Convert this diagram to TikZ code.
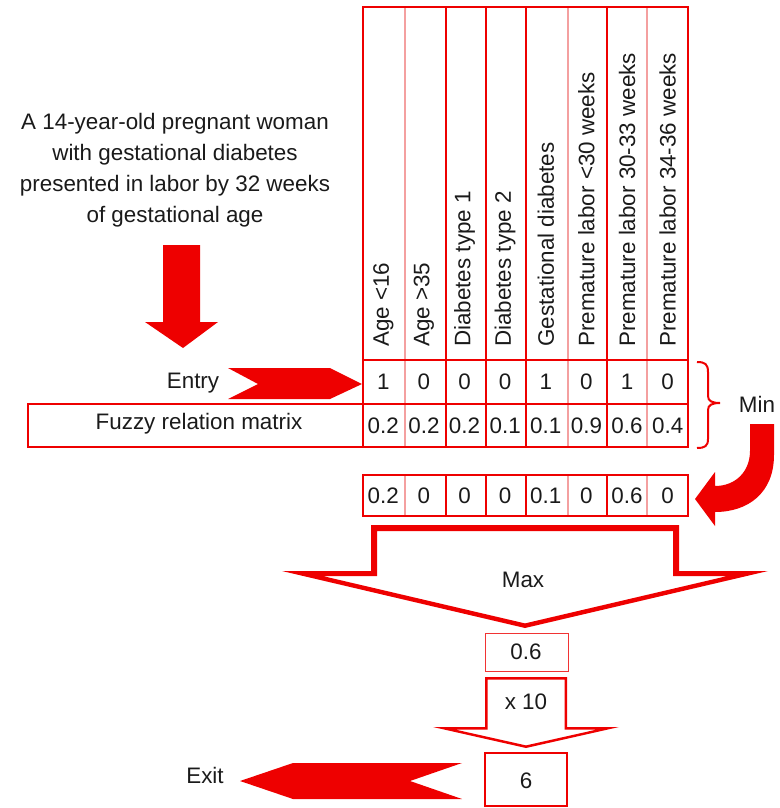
\documentclass[tikz,border=0pt]{standalone}
\usepackage{fontspec}
\setmainfont{Liberation Sans}
\definecolor{fred}{HTML}{EE0000}
\definecolor{fpink}{HTML}{F4A0A0}
\definecolor{ink}{HTML}{1A1A1A}
\newcommand\diagfont{\fontsize{16.8}{23.25}\selectfont}
\begin{document}
\begin{tikzpicture}[x=0.75pt,y=-0.75pt,
  every node/.style={inner sep=0pt, text=ink, font=\diagfont},
  frame/.style={draw=fred, line width=1.5pt},
  rule/.style={draw=fred, line width=0.8pt},
  boldrule/.style={draw=fred, line width=1.2pt},
  softrule/.style={draw=fpink, line width=0.8pt},
  solidarrow/.style={fill=fred, draw=none},
  hollowarrow/.style={fill=fred, draw=none, even odd rule},
]
\useasboundingbox (0,0) rectangle (780,808);

% ---- case description and downward arrow
\node[align=center] (case) at (175,170)
  {A 14-year-old pregnant woman\\with gestational diabetes\\presented in labor by 32 weeks\\of gestational age};
\fill[solidarrow] (163,245) -- (200,245) -- (200,322) -- (218,322) -- (183,348)
  -- (145,322) -- (163,322) -- cycle;

% ---- table grid (header, entry row, matrix row)
\foreach \x in {405,568,647} \draw[softrule] (\x,7) -- (\x,447);
\foreach \x in {446,486,607} \draw[rule] (\x,7) -- (\x,447);
\draw[boldrule] (526,7) -- (526,447);
\draw[frame] (363,360) -- (688,360);
\draw[frame] (363,404) -- (688,404);
\draw[frame] (363,7) rectangle (688,447);
\draw[frame] (28,404) rectangle (363,447);

% ---- column headings
\foreach \t [count=\i] in {Age <16, Age >35, Diabetes type 1, Diabetes type 2,
    Gestational diabetes, Premature labor <30 weeks, Premature labor 30-33 weeks,
    Premature labor 34-36 weeks}
  \node[rotate=90, anchor=west] (head\i) at ({363+(\i-0.5)*40.625},347) {\t};

% ---- entry and matrix values
\foreach \v [count=\i] in {1,0,0,0,1,0,1,0}
  \node (entry\i) at ({363+(\i-0.5)*40.625},382) {\v};
\foreach \v [count=\i] in {0.2,0.2,0.2,0.1,0.1,0.9,0.6,0.4}
  \node (rel\i) at ({363+(\i-0.5)*40.625},425.5) {\v};

\node (entrylabel) at (193,383) {Entry};
\node (rellabel) at (199,424) {Fuzzy relation matrix};
\fill[solidarrow] (228,368) -- (330,368) -- (362,384) -- (330,399) -- (228,399)
  -- (258,384) -- cycle;

% ---- brace and Min
\draw[fred, line width=1.5pt]
  (697,362) .. controls (705,362) and (708,364) .. (708,372) -- (708,396)
  .. controls (708,401) and (712,403) .. (720,403)
  .. controls (712,403) and (708,405) .. (708,410) -- (708,439)
  .. controls (708,446) and (705,448) .. (697,448);
\node (minlabel) at (757,404) {Min};
\fill[solidarrow] (750,424) -- (774,424) -- (774,455)
  .. controls (774,493) and (748,512) .. (715,512) -- (715,526) -- (695,499)
  -- (715,472) -- (715,486) .. controls (736,486) and (750,471) .. (750,451) -- cycle;

% ---- result row
\foreach \x in {405,568,647} \draw[softrule] (\x,475) -- (\x,516);
\foreach \x in {446,486,607} \draw[rule] (\x,475) -- (\x,516);
\draw[boldrule] (526,475) -- (526,516);
\draw[frame] (363,475) rectangle (688,516);
\foreach \v [count=\i] in {0.2,0,0,0,0.1,0,0.6,0}
  \node (res\i) at ({363+(\i-0.5)*40.625},496) {\v};

% ---- Max arrow
\fill[hollowarrow]
  (371,525) -- (679,525) -- (679,571) -- (768,571) -- (525,628) -- (282,571) -- (371,571) -- cycle
  (377,531) -- (673,531) -- (673,576) -- (727.5,576) -- (525,623.4) -- (322.5,576) -- (377,576) -- cycle;
\node (maxlabel) at (523,580) {Max};

% ---- maximum value
\draw[draw=fred!80, line width=0.7pt] (485,633) rectangle (568,671);
\node (maxval) at (526,652) {0.6};

% ---- x 10 arrow
\fill[hollowarrow]
  (485,677) -- (567,677) -- (567,727) -- (619,727) -- (526,748) -- (433,727) -- (485,727) -- cycle
  (487.5,679.5) -- (564.5,679.5) -- (564.5,729.5) -- (597,729.5) -- (526,745.4) -- (455,729.5) -- (487.5,729.5) -- cycle;
\node (scale) at (526,702) {x 10};

% ---- output
\draw[frame] (485,753) rectangle (567,806);
\node (outval) at (526,781) {6};
\fill[solidarrow] (240,781) -- (293,763) -- (462,763) -- (410,781) -- (462,799)
  -- (293,799) -- cycle;
\node (exitlabel) at (205,775) {Exit};
\end{tikzpicture}
\end{document}
